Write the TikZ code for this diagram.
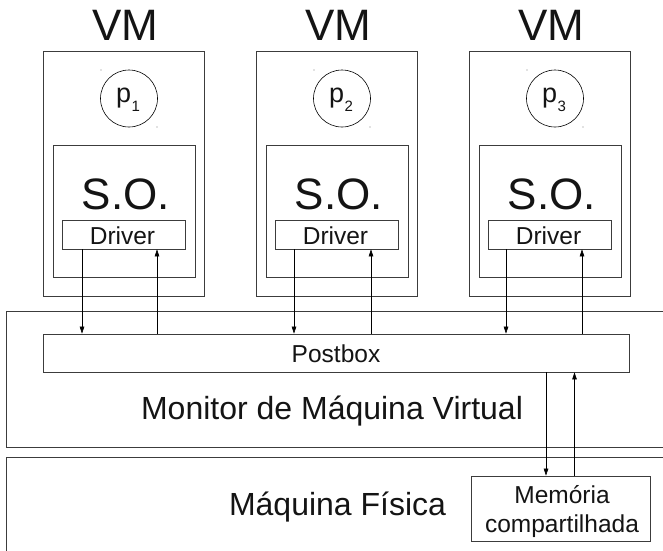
\documentclass[tikz,border=0pt]{standalone}
\usepackage{fontspec}
\setmainfont{Liberation Sans}
\usetikzlibrary{arrows.meta}
\definecolor{edge}{HTML}{3C3C3C}
\definecolor{ink}{HTML}{141414}

\begin{document}
\begin{tikzpicture}[x=1pt,y=-1pt,
  box/.style={draw=edge, line width=0.8pt, rectangle, inner sep=0pt},
  arr/.style={-{Triangle[length=7pt,width=4.6pt]}, draw=black, line width=0.6pt},
  lbl/.style={text=ink, inner sep=0pt, anchor=base},
  big/.style={lbl, font=\fontsize{44}{48}\selectfont},
  mid/.style={lbl, font=\fontsize{32}{36}\selectfont},
  small/.style={lbl, font=\fontsize{24.5}{28}\selectfont}]

\clip (0,0) rectangle (663,550);

% host layers (their right sides run past the page edge)
\node[box, anchor=north west, minimum width=720pt, minimum height=136pt] (mon) at (5.5,311) {};
\node[box, anchor=north west, minimum width=720pt, minimum height=140pt] (phys) at (5.5,457) {};
\node[mid] (monlbl) at (332,419) {Monitor de Máquina Virtual};
\node[mid] (physlbl) at (337.5,515) {Máquina Física};

% message exchange area
\node[box, minimum width=586pt, minimum height=38pt] (post) at (336,353) {};
\node[small] (postlbl) at (336,362) {Postbox};

% shared memory
\node[box, minimum width=179pt, minimum height=65pt] (mem) at (560.5,508.5) {};
\node[small] (memlbl1) at (562,503) {Memória};
\node[small] (memlbl2) at (562,532) {compartilhada};

% the three virtual machines
\foreach \i/\x/\a/\b in {1/43/82/157, 2/256/294/371, 3/469/506/582} {
  \node[big] (vmlbl\i) at (\x+82,40) {VM};
  \node[box, minimum width=161pt, minimum height=245pt] (vm\i) at (\x+80.5,173.5) {};
  \node[draw=black, line width=0.6pt, circle, minimum size=57pt, inner sep=0pt] (p\i) at (\x+86,98.5) {};
  \node[lbl, font=\fontsize{27}{30}\selectfont] (pl\i) at (\x+85,102)
    {p\kern0.5pt\raisebox{-9pt}{\fontsize{15}{17}\selectfont\i}};
  \fill[gray] (\x+58,70) circle (0.6pt);
  \fill[gray] (\x+114,127) circle (0.6pt);
  \node[box, minimum width=142pt, minimum height=132pt] (so\i) at (\x+81,211) {};
  \node[big] (solbl\i) at (\x+83,209) {S.O.};
  \node[box, minimum width=123pt, minimum height=29pt] (drv\i) at (\x+80.5,234.5) {};
  \node[small] (drvlbl\i) at (\x+79.5,244) {Driver};
  \draw[arr] (drv\i.south -| \a,0) -- (post.north -| \a,0);
  \draw[arr] (post.north -| \b,0) -- (drv\i.south -| \b,0);
}

% postbox <-> shared memory
\draw[arr] (post.south -| 546,0) -- (mem.north -| 546,0);
\draw[arr] (mem.north -| 574.5,0) -- (post.south -| 574.5,0);
\end{tikzpicture}
\end{document}
